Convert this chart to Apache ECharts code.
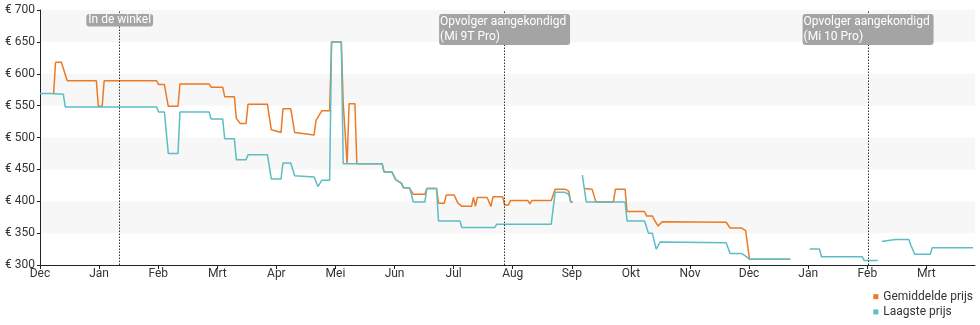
<!DOCTYPE html>
<html>
<head>
<meta charset="utf-8">
<script src="https://cdn.jsdelivr.net/npm/echarts@6/dist/echarts.min.js"></script>
<style>
  html, body { margin: 0; padding: 0; background: #fff; }
  #chart { width: 980px; height: 325px; }
</style>
</head>
<body>
<div id="chart"></div>
<script>
// Price history, Dec 2018 - Mar 2020 (euro)
const monthLabels = ['Dec', 'Jan', 'Feb', 'Mrt', 'Apr', 'Mei', 'Jun', 'Jul', 'Aug', 'Sep', 'Okt', 'Nov', 'Dec', 'Jan', 'Feb', 'Mrt'];
const tickStepDays = 30.4;
const startDate = '2018-12-01';
const endDay = 481;

const avgPrice = [
  ['2018-12-08', 568], ['2018-12-09', 618], ['2018-12-12', 618], ['2018-12-15', 589],
  ['2018-12-30', 589], ['2018-12-31', 549], ['2019-01-02', 549], ['2019-01-03', 589],
  ['2019-01-30', 589], ['2019-01-31', 583], ['2019-02-03', 583], ['2019-02-05', 549],
  ['2019-02-10', 549], ['2019-02-11', 584], ['2019-02-26', 584], ['2019-02-27', 579],
  ['2019-03-05', 579], ['2019-03-06', 564], ['2019-03-11', 564], ['2019-03-12', 530],
  ['2019-03-14', 522], ['2019-03-17', 522], ['2019-03-18', 552], ['2019-03-28', 552],
  ['2019-03-30', 512], ['2019-04-04', 508], ['2019-04-05', 545], ['2019-04-09', 545],
  ['2019-04-11', 508], ['2019-04-21', 504], ['2019-04-22', 527], ['2019-04-24', 537],
  ['2019-04-25', 542], ['2019-04-29', 542], ['2019-04-30', 650], ['2019-05-05', 650],
  ['2019-05-06', 553], ['2019-05-07', 553], ['2019-05-08', 459], ['2019-05-09', 553],
  ['2019-05-12', 553], ['2019-05-13', 459], ['2019-05-26', 459], ['2019-05-27', 446],
  ['2019-05-31', 446], ['2019-06-01', 444], ['2019-06-02', 434], ['2019-06-03', 434],
  ['2019-06-05', 428], ['2019-06-06', 421], ['2019-06-09', 421], ['2019-06-10', 418],
  ['2019-06-11', 411], ['2019-06-17', 411], ['2019-06-18', 420], ['2019-06-23', 420],
  ['2019-06-24', 397], ['2019-06-27', 397], ['2019-06-28', 410], ['2019-07-02', 410],
  ['2019-07-04', 397], ['2019-07-06', 392], ['2019-07-11', 392], ['2019-07-12', 406],
  ['2019-07-13', 392], ['2019-07-14', 406], ['2019-07-19', 406], ['2019-07-21', 392],
  ['2019-07-22', 407], ['2019-07-27', 407], ['2019-07-28', 394], ['2019-07-30', 394],
  ['2019-07-31', 401], ['2019-08-09', 401], ['2019-08-10', 396], ['2019-08-11', 401],
  ['2019-08-21', 401], ['2019-08-23', 419], ['2019-08-28', 419], ['2019-08-30', 416],
  ['2019-08-31', 399], ['2019-09-01', 399], ['2019-09-03', null],
  ['2019-09-07', 420], ['2019-09-11', 419], ['2019-09-13', 399], ['2019-09-22', 399],
  ['2019-09-23', 419], ['2019-09-28', 419], ['2019-09-29', 384], ['2019-10-08', 384],
  ['2019-10-09', 377], ['2019-10-12', 377], ['2019-10-13', 371], ['2019-10-15', 361],
  ['2019-10-17', 368], ['2019-11-19', 367], ['2019-11-21', 358], ['2019-11-27', 358],
  ['2019-11-29', 354], ['2019-12-01', 309], ['2019-12-22', 309]
];

const lowPrice = [
  ['2018-12-01', 569], ['2018-12-06', 569], ['2018-12-07', 568], ['2018-12-13', 568],
  ['2018-12-14', 548], ['2019-01-30', 548], ['2019-01-31', 540], ['2019-02-03', 540],
  ['2019-02-05', 475], ['2019-02-10', 475], ['2019-02-11', 540], ['2019-02-26', 540],
  ['2019-02-27', 529], ['2019-03-05', 529], ['2019-03-06', 498], ['2019-03-11', 498],
  ['2019-03-12', 465], ['2019-03-17', 465], ['2019-03-18', 473], ['2019-03-28', 473],
  ['2019-03-30', 435], ['2019-04-04', 435], ['2019-04-05', 460], ['2019-04-09', 460],
  ['2019-04-11', 440], ['2019-04-21', 438], ['2019-04-23', 423], ['2019-04-24', 423],
  ['2019-04-25', 433], ['2019-04-29', 433], ['2019-04-30', 650], ['2019-05-05', 650],
  ['2019-05-06', 459], ['2019-05-26', 459], ['2019-05-27', 446], ['2019-05-31', 446],
  ['2019-06-01', 444], ['2019-06-02', 434], ['2019-06-03', 434], ['2019-06-05', 428],
  ['2019-06-06', 421], ['2019-06-09', 421], ['2019-06-10', 412], ['2019-06-11', 399],
  ['2019-06-17', 399], ['2019-06-18', 420], ['2019-06-23', 420], ['2019-06-24', 369],
  ['2019-07-05', 369], ['2019-07-06', 359], ['2019-07-23', 359], ['2019-07-24', 364],
  ['2019-08-21', 364], ['2019-08-23', 414], ['2019-08-28', 414], ['2019-08-30', 411],
  ['2019-08-31', 399], ['2019-09-01', 399], ['2019-09-03', null],
  ['2019-09-06', 441], ['2019-09-08', 399], ['2019-09-28', 399], ['2019-09-29', 369],
  ['2019-10-08', 369], ['2019-10-10', 350], ['2019-10-12', 350], ['2019-10-14', 325],
  ['2019-10-16', 336], ['2019-11-19', 335], ['2019-11-21', 318], ['2019-11-27', 318],
  ['2019-11-29', 314], ['2019-12-01', 309], ['2019-12-22', 309], ['2019-12-26', null],
  ['2020-01-01', 325], ['2020-01-06', 325], ['2020-01-07', 313], ['2020-01-28', 313],
  ['2020-01-29', 307], ['2020-02-05', 307], ['2020-02-06', null],
  ['2020-02-07', 337], ['2020-02-14', 340], ['2020-02-21', 340], ['2020-02-22', 331],
  ['2020-02-24', 317], ['2020-03-03', 317], ['2020-03-04', 327], ['2020-03-25', 327]
];

const events = [
  { date: '2019-01-11', lines: ['In de winkel'] },
  { date: '2019-07-28', lines: ['Opvolger aangekondigd', '(Mi 9T Pro)'] },
  { date: '2020-01-31', lines: ['Opvolger aangekondigd', '(Mi 10 Pro)'] }
];

const seriesNames = ['Gemiddelde prijs', 'Laagste prijs'];
const seriesColors = ['#ec7a25', '#5bbdc5'];

// days since the first day of the range
function dayOf(s) {
  const p = s.split('-').map(Number);
  const q = startDate.split('-').map(Number);
  return (Date.UTC(p[0], p[1] - 1, p[2]) - Date.UTC(q[0], q[1] - 1, q[2])) / 86400000;
}
const toPoints = arr => arr.map(([d, v]) => [dayOf(d), v]);

const tickValues = monthLabels.map((m, i) => +(i * tickStepDays).toFixed(2));
const FONT = 'Roboto';

const eventPoints = events.map(ev => {
  const multi = ev.lines.length > 1;
  return {
    coord: [dayOf(ev.date), 700],
    label: {
      formatter: multi ? ev.lines.map(l => '{t|' + l + '}').join('\n') : ev.lines[0],
      lineHeight: multi ? 15.5 : 12.5,
      padding: multi ? [0, 2, 0, 1] : [0, 2, 0, 2]
    }
  };
});

const chart = echarts.init(document.getElementById('chart'), null, { renderer: 'canvas' });
chart.setOption({
  animation: false,
  backgroundColor: '#fff',
  textStyle: { fontFamily: FONT },
  grid: { left: 40, right: 5, top: 10, bottom: 60, containLabel: false },
  legend: {
    orient: 'vertical',
    right: 7,
    top: 289,
    padding: 0,
    itemGap: 0,
    itemWidth: 5,
    itemHeight: 5,
    icon: 'rect',
    textStyle: { fontFamily: FONT, fontSize: 12, color: '#333', lineHeight: 15.3 },
    data: seriesNames
  },
  xAxis: {
    type: 'value',
    min: 0,
    max: endDay,
    axisLine: { show: true, lineStyle: { color: '#222', width: 1 } },
    axisTick: { show: true, length: 4, lineStyle: { color: '#222' }, customValues: tickValues },
    axisLabel: {
      customValues: tickValues,
      margin: 3,
      fontFamily: FONT,
      fontSize: 12,
      color: '#333',
      formatter: v => monthLabels[Math.round(v / tickStepDays)] || ''
    },
    splitLine: { show: false }
  },
  yAxis: {
    type: 'value',
    min: 300,
    max: 700,
    interval: 50,
    axisLine: { show: true, lineStyle: { color: '#222', width: 1 } },
    axisTick: { show: true, length: 3, lineStyle: { color: '#222' } },
    axisLabel: { margin: 5, fontFamily: FONT, fontSize: 12, color: '#333', formatter: v => '€ ' + v },
    splitLine: { show: false },
    splitArea: { show: true, areaStyle: { color: ['#ffffff', '#f7f7f7'] } }
  },
  series: [
    {
      name: seriesNames[0],
      type: 'line',
      data: toPoints(avgPrice),
      showSymbol: false,
      connectNulls: false,
      color: seriesColors[0],
      lineStyle: { width: 1.5, color: seriesColors[0] },
      markLine: {
        silent: true,
        symbol: 'none',
        label: { show: false },
        lineStyle: { color: '#333', type: [1.5, 1.5], width: 1 },
        data: events.map(ev => ({ xAxis: dayOf(ev.date) }))
      },
      markPoint: {
        silent: true,
        symbol: 'rect',
        symbolSize: 0,
        label: {
          show: true,
          position: 'bottom',
          distance: 4,
          align: 'center',
          color: '#fff',
          fontFamily: FONT,
          fontSize: 12,
          backgroundColor: '#a4a4a4',
          borderRadius: 3,
          rich: { t: { width: 128, align: 'left', color: '#fff', fontFamily: FONT, fontSize: 12, lineHeight: 15.5 } }
        },
        data: eventPoints
      }
    },
    {
      name: seriesNames[1],
      type: 'line',
      data: toPoints(lowPrice),
      showSymbol: false,
      connectNulls: false,
      color: seriesColors[1],
      lineStyle: { width: 1.5, color: seriesColors[1] }
    }
  ]
});
</script>
</body>
</html>
